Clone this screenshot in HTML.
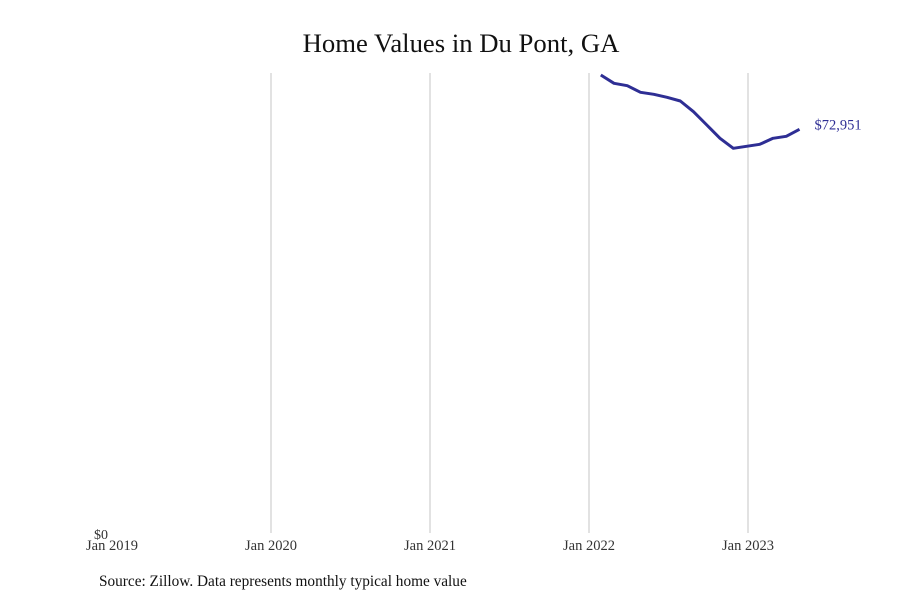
<!DOCTYPE html>
<html><head><meta charset="utf-8"><style>
body{margin:0;background:#fff;font-family:"Liberation Serif",serif;}
svg{display:block}
</style></head><body>
<svg id="chart" width="900" height="600">
<text x="461" y="52" text-anchor="middle" font-size="26.7" fill="#111">Home Values in Du Pont, GA</text>
<g id="grid"></g><g id="xt"></g>
<text x="108" y="539" text-anchor="end" font-size="14" fill="#333">$0</text>
<path id="line" fill="none" stroke="#2e2e94" stroke-width="3" stroke-linejoin="round"/>
<text id="endlabel" font-size="14.5" fill="#2e2e94"></text>
<text x="99" y="586" font-size="15.3" fill="#111">Source: Zillow. Data represents monthly typical home value</text>
</svg>
<script>
const tickLabels=["Jan 2019","Jan 2020","Jan 2021","Jan 2022","Jan 2023"];
const startMonth=[2022,1]; // Feb 2022 (month index 1)
const values=[82760,81260,80830,79640,79270,78730,78060,76130,73730,71320,69520,69880,70240,71320,71680,72951];
const x0=112,pxPerMonth=13.25,yBase=533,yTop=73,yMax=83120;
const xs=(y,m)=>x0+((y-2019)*12+m)*pxPerMonth;
const ys=v=>yBase-(v/yMax)*(yBase-yTop);
const ns="http://www.w3.org/2000/svg";
const grid=document.getElementById('grid'),xt=document.getElementById('xt');
tickLabels.forEach((t,i)=>{
 const x=xs(2019+i,0);
 if(i>0){const l=document.createElementNS(ns,'line');
 l.setAttribute('x1',x);l.setAttribute('x2',x);l.setAttribute('y1',yTop);l.setAttribute('y2',yBase);
 l.setAttribute('stroke','#c4c4c4');l.setAttribute('stroke-width','1');
 
 
 grid.appendChild(l);}
 const tx=document.createElementNS(ns,'text');
 tx.setAttribute('x',x);tx.setAttribute('y',550);tx.setAttribute('text-anchor','middle');
 tx.setAttribute('font-size','14.5');tx.setAttribute('fill','#333');tx.textContent=t;
 
 
 xt.appendChild(tx);
});
let d='',lx,ly;
values.forEach((v,i)=>{
 const m=startMonth[1]+i;
 const x=xs(startMonth[0]+Math.floor(m/12),m%12)-1.5,y=ys(v);
 d+=(i?'L':'M')+x.toFixed(1)+','+y.toFixed(1);lx=x;ly=y;
});
document.getElementById('line').setAttribute('d',d);
const el=document.getElementById('endlabel');
el.setAttribute('x',lx+15);el.setAttribute('y',ly);
el.textContent='$'+values[values.length-1].toLocaleString('en-US');
</script>
</body></html>
